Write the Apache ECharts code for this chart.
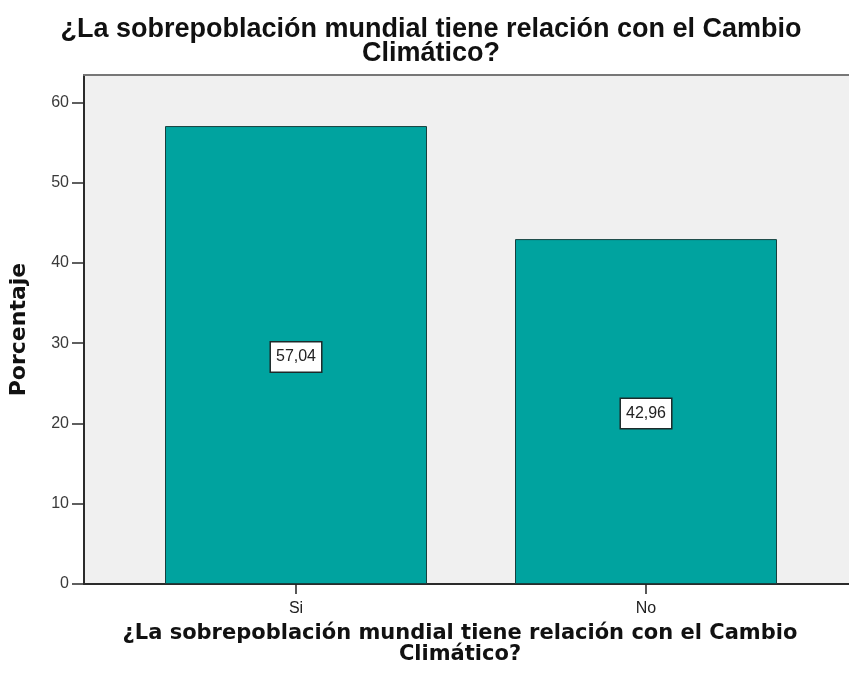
<!DOCTYPE html>
<html>
<head>
<meta charset="utf-8">
<script src="https://cdn.jsdelivr.net/npm/echarts@6/dist/echarts.min.js"></script>
<style>
  html, body { margin: 0; padding: 0; background: #fff; }
  #chart { width: 849px; height: 684px; }
</style>
</head>
<body>
<div id="chart"></div>
<script>
// data
var categories = ['Si', 'No'];
var porcentajes = [57.04, 42.96];
var yTicks = [0, 10, 20, 30, 40, 50, 60];

var chart = echarts.init(document.getElementById('chart'));

var titleText = '¿La sobrepoblación mundial tiene relación con el Cambio\nClimático?';

var option = {
    animation: false,
    title: [{
        text: titleText,
        left: 426,
        top: 13,
        textAlign: 'center',
        textStyle: {
            fontFamily: 'Liberation Sans',
            fontSize: 27,
            fontWeight: 'bold',
            color: '#111',
            lineHeight: 24
        }
    }, {
        // x axis title (SPSS puts it under the axis)
        text: titleText,
        left: 455,
        top: 618,
        textAlign: 'center',
        textStyle: {
            fontFamily: 'DejaVu Sans',
            fontSize: 21,
            fontWeight: 'bold',
            color: '#111',
            lineHeight: 21
        }
    }],
    grid: [{
        // background panel + y axis
        left: 83,
        right: 0,
        top: 75,
        bottom: 100,
        show: true,
        backgroundColor: '#f0f0f0',
        borderWidth: 0
    }, {
        // bars
        left: 121,
        width: 700,
        top: 75,
        bottom: 100
    }],
    xAxis: [{
        gridIndex: 0,
        type: 'category',
        data: [''],
        axisLine: { show: true, lineStyle: { color: '#2b2b2b', width: 2 } },
        axisTick: { show: false },
        axisLabel: { show: false }
    }, {
        gridIndex: 0,
        type: 'category',
        position: 'top',
        data: [''],
        axisLine: { show: true, lineStyle: { color: '#777', width: 2 } },
        axisTick: { show: false },
        axisLabel: { show: false }
    }, {
        gridIndex: 1,
        type: 'category',
        data: categories,
        axisLine: { show: false },
        axisTick: { show: true, alignWithLabel: true, length: 10, lineStyle: { color: '#222', width: 1.5 } },
        axisLabel: {
            margin: 17,
            fontFamily: 'Liberation Sans',
            fontSize: 16,
            color: '#222'
        }
    }],
    yAxis: [{
        gridIndex: 0,
        type: 'value',
        min: 0,
        max: 63.4,
        interval: 10,
        name: 'Porcentaje',
        nameLocation: 'middle',
        nameGap: 54,
        nameTextStyle: {
            fontFamily: 'DejaVu Sans',
            fontSize: 22,
            fontWeight: 'bold',
            color: '#111'
        },
        axisLine: { show: true, lineStyle: { color: '#2b2b2b', width: 2 } },
        axisTick: { show: true, length: 12, lineStyle: { color: '#2b2b2b', width: 1.5 } },
        splitLine: { show: false },
        axisLabel: {
            margin: 15,
            fontFamily: 'Liberation Sans',
            fontSize: 16,
            color: '#3a3a3a',
            showMaxLabel: false,
            formatter: function (v) {
                return yTicks.indexOf(v) >= 0 ? String(v) : '';
            }
        }
    }, {
        gridIndex: 1,
        type: 'value',
        min: 0,
        max: 63.4,
        show: false
    }],
    series: [{
        type: 'bar',
        xAxisIndex: 2,
        yAxisIndex: 1,
        data: porcentajes,
        barWidth: 262,
        itemStyle: {
            color: '#00a39f',
            borderColor: '#17403e',
            borderWidth: 1
        },
        label: {
            show: true,
            position: 'inside',
            offset: [0, 2],
            formatter: function (p) {
                return p.value.toFixed(2).replace('.', ',');
            },
            fontFamily: 'Liberation Sans',
            fontSize: 16,
            color: '#222',
            backgroundColor: '#fff',
            borderColor: '#1c2a2a',
            borderWidth: 1.5,
            padding: [7, 5, 6, 5]
        }
    }]
};

chart.setOption(option);
</script>
</body>
</html>
